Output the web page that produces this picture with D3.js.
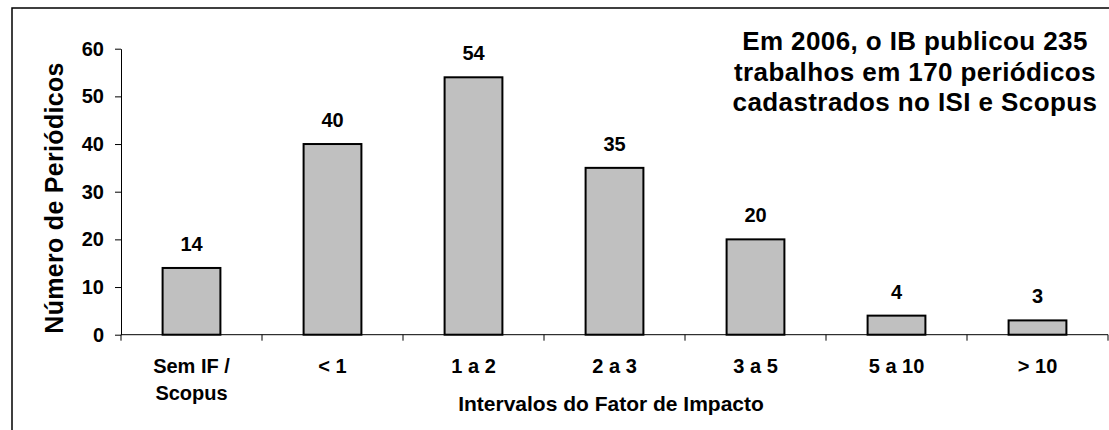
<!DOCTYPE html>
<html>
<head>
<meta charset="utf-8">
<script src="https://cdn.jsdelivr.net/npm/d3@7"></script>
<style>
  body { margin: 0; background: #fff; }
  svg text { font-family: "Liberation Sans", Arial, sans-serif; font-weight: bold; fill: #000; }
</style>
</head>
<body>
<svg id="chart" width="1109" height="430"></svg>
<script>
// data
var categories = ["Sem IF / Scopus", "< 1", "1 a 2", "2 a 3", "3 a 5", "5 a 10", "> 10"];
var catLines = [["Sem IF /", "Scopus"], ["< 1"], ["1 a 2"], ["2 a 3"], ["3 a 5"], ["5 a 10"], ["> 10"]];
var values = [14, 40, 54, 35, 20, 4, 3];
var yTicks = [0, 10, 20, 30, 40, 50, 60];
var note = ["Em 2006, o IB publicou 235", "trabalhos em 170 periódicos", "cadastrados no ISI e Scopus"];

var svg = d3.select("#chart");
var plotL = 121, plotR = 1108, plotT = 48.7, plotB = 334.7;

// outer frame
svg.append("rect")
    .attr("x", 12).attr("y", 8)
    .attr("width", 1200).attr("height", 500)
    .attr("fill", "none").attr("stroke", "#000").attr("stroke-width", 1.5);

var x = d3.scaleBand()
    .domain(categories)
    .range([plotL, plotR])
    .paddingInner(0.59)
    .paddingOuter(0.295);

var y = d3.scaleLinear().domain([0, 60]).range([plotB, plotT]);

// Y axis
var yAxis = svg.append("g")
    .attr("transform", "translate(" + plotL + ",0)")
    .attr("font-family", null).attr("font-size", null)
    .call(d3.axisLeft(y).tickValues(yTicks).tickSize(6).tickSizeOuter(0).tickPadding(11));
yAxis.attr("font-family", null).attr("font-size", null);
yAxis.selectAll("text").style("font-size", "20px");
yAxis.selectAll("line, path").attr("stroke", "#000");

// X axis line + ticks on band boundaries
svg.append("line")
    .attr("x1", plotL).attr("x2", plotR)
    .attr("y1", y(0)).attr("y2", y(0))
    .attr("stroke", "#000");
var bounds = d3.range(categories.length + 1).map(function(i) { return plotL + i * x.step(); });
svg.selectAll("line.xtick")
    .data(bounds)
    .enter().append("line")
    .attr("class", "xtick")
    .attr("x1", function(d) { return d; }).attr("x2", function(d) { return d; })
    .attr("y1", y(0)).attr("y2", y(0) + 6)
    .attr("stroke", "#000");

// category labels
var labels = svg.selectAll("text.xlab")
    .data(categories)
    .enter().append("text")
    .attr("class", "xlab")
    .attr("text-anchor", "middle")
    .style("font-size", "20px")
    .attr("transform", function(d) { return "translate(" + (x(d) + x.bandwidth() / 2) + ",373)"; });
labels.each(function(d, i) {
    var t = d3.select(this);
    catLines[i].forEach(function(line, j) {
        t.append("tspan").attr("x", 0).attr("y", j * 27).text(line);
    });
});

// bars
svg.selectAll("rect.bar")
    .data(values)
    .enter().append("rect")
    .attr("class", "bar")
    .attr("x", function(d, i) { return x(categories[i]); })
    .attr("y", function(d) { return y(d); })
    .attr("width", x.bandwidth())
    .attr("height", function(d) { return y(0) - y(d); })
    .attr("fill", "#c0c0c0")
    .attr("stroke", "#000")
    .attr("stroke-width", 2);

// value labels
svg.selectAll("text.val")
    .data(values)
    .enter().append("text")
    .attr("class", "val")
    .attr("text-anchor", "middle")
    .style("font-size", "20px")
    .attr("x", function(d, i) { return x(categories[i]) + x.bandwidth() / 2; })
    .attr("y", function(d) { return y(d) - 17; })
    .text(function(d) { return d; });

// axis titles
svg.append("text")
    .attr("text-anchor", "middle")
    .style("font-size", "25px")
    .style("letter-spacing", "0.3px")
    .attr("transform", "translate(63,198)rotate(-90)")
    .text("Número de Periódicos");

svg.append("text")
    .attr("text-anchor", "middle")
    .style("font-size", "21px")
    .attr("x", 611).attr("y", 411)
    .text("Intervalos do Fator de Impacto");

// note
svg.selectAll("text.note")
    .data(note)
    .enter().append("text")
    .attr("class", "note")
    .attr("text-anchor", "middle")
    .style("font-size", "26px")
    .style("letter-spacing", "0.4px")
    .attr("x", 915)
    .attr("y", function(d, i) { return 50 + i * 30.5; })
    .text(function(d) { return d; });
</script>
</body>
</html>
